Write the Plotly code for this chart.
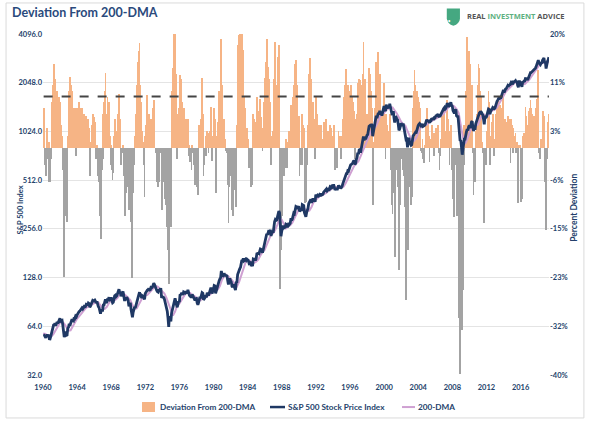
import math
import plotly.graph_objects as go

# ---------------- data ----------------
# monthly dates (month-end), Jan 1960 .. Apr 2019
months = [f"{y}-{m:02d}-28" for y in range(1960, 2020) for m in range(1, 13)][:712]

# S&P 500 monthly close
sp500 = [
    55.6, 56.1, 55.3, 54.4, 55.8, 56.9, 55.5, 56.8, 53.5, 53.4, 55.5, 58.1,
    61.8, 63.4, 65.1, 65.3, 66.6, 64.6, 66.8, 68.1, 66.7, 68.6, 71.3, 71.6,
    68.8, 69.9, 69.6, 65.2, 59.6, 54.8, 58.2, 59.1, 56.3, 56.5, 62.3, 63.1,
    66.2, 64.3, 66.6, 69.8, 70.8, 69.4, 69.1, 72.5, 71.7, 74.0, 73.2, 75.0,
    77.0, 77.8, 78.9, 79.5, 80.4, 81.7, 83.2, 82.0, 84.2, 84.9, 84.4, 84.8,
    87.6, 87.4, 86.2, 89.1, 88.4, 84.1, 85.3, 87.2, 89.9, 92.4, 91.6, 92.4,
    92.9, 91.2, 89.2, 91.1, 86.1, 84.7, 83.6, 77.1, 76.6, 80.2, 80.5, 80.3,
    86.6, 86.8, 90.2, 94.0, 89.1, 90.6, 94.8, 93.6, 96.7, 93.3, 94.0, 96.5,
    92.2, 89.4, 90.2, 97.6, 98.7, 99.6, 97.7, 98.9, 102.7, 103.4, 108.4, 103.9,
    103.0, 98.1, 101.5, 103.7, 103.5, 97.7, 91.8, 95.5, 93.1, 97.1, 93.8, 92.1,
    85.0, 89.5, 89.6, 81.5, 76.6, 72.7, 78.1, 81.5, 84.3, 83.3, 87.2, 92.2,
    95.9, 96.8, 100.3, 103.9, 99.6, 99.7, 95.6, 99.0, 98.3, 94.2, 93.9, 102.1,
    103.9, 106.6, 107.2, 107.7, 109.5, 107.1, 107.4, 111.1, 110.6, 111.6, 116.7, 118.1,
    116.0, 111.7, 111.5, 107.0, 105.0, 104.3, 108.2, 104.3, 108.4, 108.3, 96.0, 97.6,
    96.6, 96.2, 94.0, 90.3, 87.3, 86.0, 79.3, 72.2, 63.5, 73.9, 70.0, 68.6,
    77.0, 81.6, 83.4, 87.3, 91.2, 95.2, 88.8, 86.9, 83.9, 89.0, 91.2, 90.2,
    100.9, 99.7, 102.8, 101.6, 100.2, 104.3, 103.4, 102.9, 105.2, 102.9, 102.1, 107.5,
    102.0, 99.8, 98.4, 98.4, 96.1, 100.5, 98.9, 96.8, 96.5, 92.3, 94.8, 95.1,
    89.3, 87.0, 89.2, 96.8, 97.2, 95.5, 100.7, 103.3, 102.5, 93.2, 94.7, 96.1,
    99.9, 96.3, 101.6, 101.8, 99.1, 102.9, 103.8, 109.3, 109.3, 101.8, 106.2, 107.9,
    114.2, 113.7, 102.1, 106.3, 111.2, 114.2, 121.7, 122.4, 125.5, 127.5, 140.5, 135.8,
    129.6, 131.3, 136.0, 132.8, 132.6, 131.2, 130.9, 122.8, 116.2, 121.9, 126.4, 122.6,
    120.4, 113.1, 112.0, 116.4, 111.9, 109.6, 107.1, 119.5, 120.4, 133.7, 138.5, 140.6,
    145.3, 148.1, 153.0, 164.4, 162.4, 168.1, 162.6, 164.4, 166.1, 163.6, 166.4, 164.9,
    163.4, 157.1, 159.2, 160.1, 150.6, 153.2, 150.7, 166.7, 166.1, 166.1, 163.6, 167.2,
    179.6, 181.2, 180.7, 179.8, 189.6, 191.9, 190.9, 188.6, 182.1, 189.8, 202.2, 211.3,
    211.8, 226.9, 238.9, 235.5, 247.4, 250.8, 236.1, 252.9, 231.3, 244.0, 249.2, 242.2,
    274.1, 284.2, 291.7, 288.4, 290.1, 304.0, 318.7, 329.8, 321.8, 251.8, 230.3, 247.1,
    257.1, 267.8, 258.9, 261.3, 262.2, 273.5, 272.0, 261.5, 271.9, 279.0, 273.7, 277.7,
    297.5, 288.9, 294.9, 309.6, 320.5, 318.0, 346.1, 351.5, 349.2, 340.4, 346.0, 353.4,
    329.1, 331.9, 339.9, 330.8, 361.2, 358.0, 356.2, 322.6, 306.1, 304.0, 322.2, 330.2,
    343.9, 367.1, 375.2, 375.4, 389.8, 371.2, 387.8, 395.4, 387.9, 392.5, 375.2, 417.1,
    408.8, 412.7, 403.7, 415.0, 415.4, 408.1, 424.2, 414.0, 417.8, 418.7, 431.4, 435.7,
    438.8, 443.4, 451.7, 440.2, 450.2, 450.5, 448.1, 463.6, 458.9, 467.8, 461.8, 466.5,
    481.6, 467.1, 445.8, 450.9, 456.5, 444.3, 458.3, 475.5, 462.7, 472.4, 453.7, 459.3,
    470.4, 487.4, 500.7, 514.7, 533.4, 544.8, 562.1, 561.9, 584.4, 581.5, 605.4, 615.9,
    636.0, 640.4, 645.5, 654.2, 669.1, 670.6, 640.0, 652.0, 687.3, 705.3, 757.0, 740.7,
    786.2, 790.8, 757.1, 801.3, 848.3, 885.1, 954.3, 899.5, 947.3, 914.6, 955.4, 970.4,
    980.3, 1049.3, 1101.8, 1111.8, 1090.8, 1133.8, 1120.7, 957.3, 1017.0, 1098.7, 1163.6, 1229.2,
    1279.6, 1238.3, 1286.4, 1335.2, 1301.8, 1372.7, 1328.7, 1320.4, 1282.7, 1362.9, 1388.9, 1469.3,
    1394.5, 1366.4, 1498.6, 1452.4, 1420.6, 1454.6, 1430.8, 1517.7, 1436.5, 1429.4, 1315.0, 1320.3,
    1366.0, 1239.9, 1160.3, 1249.5, 1255.8, 1224.4, 1211.2, 1133.6, 1040.9, 1059.8, 1139.5, 1148.1,
    1130.2, 1106.7, 1147.4, 1076.9, 1067.1, 989.8, 911.6, 916.1, 815.3, 885.8, 936.3, 879.8,
    855.7, 841.2, 848.2, 916.9, 963.6, 974.5, 990.3, 1008.0, 996.0, 1050.7, 1058.2, 1111.9,
    1131.1, 1144.9, 1126.2, 1107.3, 1120.7, 1140.8, 1101.7, 1104.2, 1114.6, 1130.2, 1173.8, 1211.9,
    1181.3, 1203.6, 1180.6, 1156.9, 1191.5, 1191.3, 1234.2, 1220.3, 1228.8, 1207.0, 1249.5, 1248.3,
    1280.1, 1280.7, 1294.9, 1310.6, 1270.1, 1270.2, 1276.7, 1303.8, 1335.9, 1377.9, 1400.6, 1418.3,
    1438.2, 1406.8, 1420.9, 1482.4, 1530.6, 1503.4, 1455.3, 1474.0, 1526.8, 1549.4, 1481.1, 1468.4,
    1378.6, 1330.6, 1322.7, 1385.6, 1400.4, 1280.0, 1267.4, 1282.8, 1166.4, 968.8, 896.2, 903.3,
    825.9, 735.1, 797.9, 872.8, 919.1, 919.3, 987.5, 1020.6, 1057.1, 1036.2, 1095.6, 1115.1,
    1073.9, 1104.5, 1169.4, 1186.7, 1089.4, 1030.7, 1101.6, 1049.3, 1141.2, 1183.3, 1180.6, 1257.6,
    1286.1, 1327.2, 1325.8, 1363.6, 1345.2, 1320.6, 1292.3, 1218.9, 1131.4, 1253.3, 1247.0, 1257.6,
    1312.4, 1365.7, 1408.5, 1397.9, 1310.3, 1362.2, 1379.3, 1406.6, 1440.7, 1412.2, 1416.2, 1426.2,
    1498.1, 1514.7, 1569.2, 1597.6, 1630.7, 1606.3, 1685.7, 1633.0, 1681.6, 1756.5, 1805.8, 1848.4,
    1782.6, 1859.5, 1872.3, 1884.0, 1923.6, 1960.2, 1930.7, 2003.4, 1972.3, 2018.1, 2067.6, 2058.9,
    1995.0, 2104.5, 2067.9, 2085.5, 2107.4, 2063.1, 2103.8, 1972.2, 1920.0, 2079.4, 2080.4, 2043.9,
    1940.2, 1932.2, 2059.7, 2065.3, 2097.0, 2098.9, 2173.6, 2171.0, 2168.3, 2126.2, 2198.8, 2238.8,
    2278.9, 2363.6, 2362.7, 2384.2, 2411.8, 2423.4, 2470.3, 2471.7, 2519.4, 2575.3, 2647.6, 2673.6,
    2823.8, 2713.8, 2640.9, 2648.1, 2705.3, 2718.4, 2816.3, 2901.5, 2914.0, 2711.7, 2760.2, 2506.9,
    2704.1, 2784.5, 2834.4, 2945.8,
]

# 200-day moving average, quarterly (Dec 1959 .. Jun 2019)
dma_dates = [f"{y}-{m:02d}-28" for y in range(1959, 2020) for m in (3, 6, 9, 12)][3:3 + 239]
dma = [
    57.5,
    57.5, 56.5, 55.8, 55.4,   57.5, 60.5, 64.5, 67.2,   68.3, 66.5, 63.3, 60.2,
    60.4, 64.0, 68.6, 71.2,   73.8, 77.0, 80.0, 82.5,   84.5, 86.0, 87.0, 88.3,
    90.3, 89.8, 86.0, 82.5,   82.0, 84.5, 89.0, 93.0,   93.5, 93.5, 96.0, 100.2,
    101.8, 101.5, 99.0, 96.0, 93.0, 86.5, 82.0, 82.5,   87.0, 93.5, 97.8, 99.0,
    100.0, 103.5, 107.5, 110.5, 113.5, 112.0, 108.5, 105.5, 102.0, 95.5, 87.5, 80.0,
    74.5, 79.0, 86.0, 88.5,   92.5, 98.0, 102.5, 103.5, 103.0, 100.5, 99.0, 96.5,
    93.5, 92.5, 96.5, 98.0,   98.5, 99.5, 103.0, 105.0, 106.5, 108.0, 113.5, 124.0,
    129.5, 133.0, 130.0, 126.0, 122.0, 116.0, 113.0, 120.0, 131.0, 146.5, 158.0, 164.5,
    163.0, 159.0, 157.5, 160.5, 165.0, 175.0, 184.5, 189.5, 203.0, 222.0, 236.5, 240.5,
    252.5, 272.0, 298.0, 292.0, 273.0, 258.0, 265.0, 270.0, 279.0, 296.5, 320.0, 338.0,
    342.0, 344.0, 338.5, 330.0, 332.0, 349.5, 376.0, 388.0, 400.5, 410.0, 412.5, 418.0,
    428.0, 440.0, 452.0, 458.0, 465.0, 460.0, 457.5, 459.0, 466.0, 490.0, 525.0, 560.0,
    596.0, 628.0, 648.0, 670.0, 718.0, 774.0, 840.0, 900.0, 955.0, 1030.0, 1075.0, 1095.0,
    1160.0, 1260.0, 1300.0, 1330.0, 1385.0, 1420.0, 1445.0, 1440.0, 1390.0, 1320.0, 1250.0, 1175.0,
    1135.0, 1110.0, 1030.0, 950.0, 900.0, 895.0, 930.0, 1000.0, 1070.0, 1115.0, 1120.0, 1125.0,
    1160.0, 1180.0, 1200.0, 1215.0, 1245.0, 1270.0, 1285.0, 1320.0, 1380.0, 1430.0, 1480.0, 1490.0,
    1460.0, 1410.0, 1330.0, 1140.0, 940.0, 860.0, 910.0, 1000.0, 1080.0, 1110.0, 1110.0, 1130.0,
    1210.0, 1290.0, 1300.0, 1260.0, 1285.0, 1355.0, 1380.0, 1400.0, 1440.0, 1530.0, 1610.0, 1700.0,
    1790.0, 1850.0, 1920.0, 1970.0, 2030.0, 2065.0, 2060.0, 2040.0, 2010.0, 2010.0, 2070.0, 2125.0,
    2220.0, 2330.0, 2420.0, 2520.0, 2650.0, 2700.0, 2740.0, 2760.0,
    2740.0, 2780.0,
]

# percent deviation of the index from its 200-DMA, monthly
deviation = [
    7, 2, -3, -5, 1, 3.5, -2, 1, -6, -6, -2, 2.5,
    8, 11, 13, 14.8, 12, 7, 9, 10, 7, 8, 9, 8,
    3, 4, 2, -4, -14, -22.7, -12, -9, -12, -13, 2, 5,
    10, 12.5, 9, 11, 10, 6, 4, 7, 5, 7, -1.5, 5,
    7, 8, 8, 7, 7, 6, 7, 4, 6, 6, 4.5, 3.5,
    5.5, 4.5, 3, 5, 3.5, -5, -2, 1, 4, 6, 5, 5.4,
    4.5, 2, -2, 0.5, -5, -5, -6, -12, -13, -16, -4, -2,
    6, 8, 10, 13.1, 5, 6, 9, 6, 8, 2, -3, 0.5,
    -4, -5.7, -4.5, 2, 4, 5, 2, 3, 6, 6, 9.5, 5,
    1, -3, -1, 0.5, 0.5, -5, -12, -7, -8, -3, -5, -7,
    -11, -6, -5, -13, -23, -17, -8, -3, 1, 2, 6, 11,
    14, 15, 17, 18.4, 11, 8, 2, 3, 1, -3, -8.6, 2,
    4, 6, 9.3, 6, 6, 3, 3, 5, 3.5, 4, 7, 8.4,
    4, 0, -1, -4, -6, -7, -3, -6, -1, -0.5, -11, -8.6,
    -6, -6, -7, -9, -10, -10, -14, -18, -24, -9, -11, -14,
    3, 10, 14, 18, 20, 20, 13, 7, -2, 6, 7, 3.5,
    12.8, 11, 12, 8, 5, 7, 5, 3.5, 5, 2.5, 1, 5,
    0.5, -1.5, -2.5, -2, -4, 0.5, -1, -3, -3, -6.5, -3, -2.5,
    -7, -8.4, -5, 4, 4, 1.5, 5, 12.2, 6, -5, -3, -1,
    2, -1.5, 3, 2.5, -1, 2.5, 3, 7.2, 6, -2.4, 2, 3.5,
    7, 5, -8, -3, 2, 4.5, 10, 9, 10, 9, 19.2, 11,
    3, 2, 5, 1.5, 0.5, -0.5, -1, -6.5, -13.3, -7, -3, -4,
    -5, -11, -12, -4, -6, -7.5, -8, -10.5, 4, 15, 18, 19.8,
    20, 19.8, 19, 20, 16, 17.2, 9, 7, 6, 3, 3.5, 1.5,
    0, -3.5, -2, -1.5, -6.9, -5, -6.5, 6, 5, 4.5, 2, 3.5,
    9, 8.5, 6.5, 5, 8.5, 8, 5.4, 3.5, -0.5, 2, 8, 12.2,
    9, 15, 19.2, 13, 14.2, 12, 2, 8, -3, 2, 3, 0,
    12, 15, 18.6, 11, 9, 12, 16, 18, 10, -24.8, -18, -12,
    -7, -3, -5, -4, -3.5, 1.5, 0.5, -3.5, 1, 3, 0, 1.5,
    7.5, 3, 4, 8.9, 11, 8, 14.8, 15.4, 11, 4, 4, 5.5,
    -5, -3, -0.5, -3, 6, 4, 3.5, -6, -9.8, -9.5, -3, 0,
    4, 11, 13, 15.7, 12, 5, 8, 8, 5, 5, -2, 9,
    6.6, 6, 3, 4, 4, 1.5, 4, 1, 1.5, 1, 3.5, 4.5,
    4, 5, 5, 1.5, 3, 2.5, 1.5, 4, 2.5, 3.5, 1.5, 2,
    4, 0.5, -3.9, -2.5, -1.5, -3.5, 0, 3, 0.5, 2, -2, -1,
    2, 5, 7, 9, 11, 13.9, 13, 10, 11, 8, 10, 10,
    11, 10, 9, 8, 8, 6.5, -2, 1, 5, 6, 11.3, 7,
    12, 11.9, 4, 8, 11, 13, 18.6, 10, 12, 1, 6, 6,
    4, 11, 14, 13, 9, 10, 7, -10.1, -5, 1, 7, 12,
    15, 10, 12, 16.9, 11, 13, 8, 5.5, 1, 6, 6.5, 11.3,
    5, -2, 6, 4, 0.5, 3, 1, 6, -0.5, -4, -10, -11.6,
    -1, -8, -19.2, -9, -4, -4, -4, -7, -21.6, -10, -2, -1,
    -2, -4, 0, -5, -6, -10.4, -26.8, -14, -18, -18, -4, -7,
    -7, -10, -8.6, 2, 7, 10, 13.7, 11, 8, 10, 8, 9,
    8, 7, 2, -0.5, -1, 1.5, -2, -2.7, 0, 0.5, 4, 7,
    3.5, 4.5, 2, -2.5, 1.5, 1.5, 4, 2.5, 2.5, -1.5, 2.5, 2,
    3.5, 3, 3.5, 4, -1, -3.9, -1.5, 1.5, 4, 6.5, 7, 7,
    7, 3, 2, 6, 8.4, 5, 1, -3, 3, 4, -2, -4,
    -9, -10, -12.2, -3, -1, -9, -12, -8, -16, -30, -39.8, -28,
    -20, -32, -25, -3, 4, 4, 10, 14, 19.5, 16, 17, 15,
    14.8, 5, 10, 11, -1, -8.4, -2, -6, 3, 6, 4, 11,
    14.8, 14, 10, 9, 5, 1, -1, -10, -13.3, -1.5, -3, -2,
    3, 7, 10, 8, -3, 0.5, 2, 4.5, 6, 2.5, -1.5, 1.5,
    6, 6, 8, 8, 9, 3, 7.5, 2.5, 4.5, 7, 8.5, 9.5,
    1.5, 5, 4.5, 3.5, 4.5, 5.5, 2.5, 5, 2.5, -2.7, 5, 4,
    -1, 3.5, 1.5, 2, 2.5, -1, 1, -9.8, -7, 0.5, 0.5, -1.5,
    -9.5, -9, 1, 2, 2.5, 1.5, 7.2, 5.5, 4, 1, 3.5, 6.5,
    7, 8.4, 7, 6, 5.5, 5, 5.5, 4, 5, 7, 8.5, 9,
    13.7, -1, -2, -1.5, 1.5, 1.5, 4.5, 6.5, 5.5, -6, -3, -14.5,
    -2, 2.5, 4.5, 6,
]

ref_level = 9.0  # dashed reference line (percent)

price_ticks = [32, 64, 128, 256, 512, 1024, 2048, 4096]
price_ticktext = ["32.0", "64.0", "128.0", "256.0", "512.0", "1024.0", "2048.0", "4096.0"]
dev_ticktext = ["-40%", "-32%", "-23%", "-15%", "-6%", "3%", "11%", "20%"]
dev_ticks = [-40 + i * 60 / 7 for i in range(8)]

# ---------------- styling ----------------
ORANGE = "#F6B485"
GRAY = "#A3A3A3"
NAVY = "#1F3864"
PINK = "#CFA0D2"
TXT = "#243F6B"
FONT = "Lato, 'Open Sans', sans-serif"

dev_pos = [v if v > 0 else None for v in deviation]
dev_neg = [v if v < 0 else None for v in deviation]
bar_w = 36 * 24 * 3600 * 1000

fig = go.Figure()
fig.add_trace(go.Bar(x=months, y=dev_pos, width=bar_w, name="Deviation From 200-DMA",
                     marker=dict(color=ORANGE, line=dict(width=0)), yaxis="y"))
fig.add_trace(go.Bar(x=months, y=dev_neg, width=bar_w, name="Deviation From 200-DMA (neg)",
                     marker=dict(color=GRAY, line=dict(width=0)), yaxis="y"))
fig.add_trace(go.Scatter(x=dma_dates, y=dma, mode="lines", name="200-DMA",
                         line=dict(color=PINK, width=2), yaxis="y2"))
fig.add_trace(go.Scatter(x=months, y=sp500, mode="lines", name="S&P 500 Stock Price Index",
                         line=dict(color=NAVY, width=2.8), yaxis="y2"))

# dashed reference line with arrow at left
fig.add_shape(type="line", xref="x", yref="y", x0=months[0], x1=months[-1], y0=ref_level, y1=ref_level,
              line=dict(color="#444444", width=2, dash="dash"))
fig.add_annotation(x="1959-10-01", y=ref_level, xref="x", yref="y", ax=14, ay=0, text="",
                   showarrow=True, arrowhead=2, arrowsize=1, arrowwidth=1.8, arrowcolor="#444444")

# border
fig.add_shape(type="rect", xref="paper", yref="paper", x0=-0.073, x1=1.069, y0=-0.126, y1=1.091,
              line=dict(color="#DADADA", width=1), fillcolor="rgba(0,0,0,0)", layer="below")

# title
fig.add_annotation(x=-0.065, y=1.062, xref="paper", yref="paper", xanchor="left", yanchor="middle",
                   text="Deviation From 200-DMA", showarrow=False,
                   font=dict(family=FONT, size=12.5, color="#2A4A7C", weight="bold"))
# logo shield
fig.add_shape(type="path", xref="paper", yref="paper",
              path="M 0.798 1.075 L 0.824 1.075 L 0.824 1.045 Q 0.823 1.030 0.811 1.024 Q 0.799 1.030 0.798 1.045 Z",
              fillcolor="#45A881", line=dict(width=0))
fig.add_annotation(x=0.811, y=1.053, xref="paper", yref="paper", text="•••", showarrow=False,
                   font=dict(size=5, color="white"))
fig.add_annotation(x=0.834, y=1.052, xref="paper", yref="paper", xanchor="left", yanchor="middle",
                   text="REAL <span style='color:#5DB07F'>INVESTMENT</span> ADVICE", showarrow=False,
                   font=dict(family="'Open Sans', sans-serif", size=7.5, color="#555555", weight="bold"))

# axis titles
fig.add_annotation(x=-0.057, y=0.484, xref="paper", yref="paper", text="S&P 500 Index", textangle=-90,
                   showarrow=False, font=dict(family=FONT, size=7.5, color=TXT, weight="bold"))
fig.add_annotation(x=1.063, y=0.49, xref="paper", yref="paper", text="Percent Deviation", textangle=-90,
                   showarrow=False, font=dict(family=FONT, size=8.5, color=TXT, weight="bold"))

# legend (drawn below the plot)
LEG_Y = -0.094
legfont = dict(family=FONT, size=8.2, color=TXT, weight="bold")
fig.add_shape(type="rect", xref="paper", yref="paper", x0=0.1957, x1=0.2213, y0=-0.1085, y1=-0.0792,
              fillcolor=ORANGE, line=dict(width=0))
fig.add_annotation(x=0.2273, y=LEG_Y, xref="paper", yref="paper", xanchor="left", yanchor="middle",
                   text="Deviation From 200-DMA", showarrow=False, font=legfont)
fig.add_shape(type="line", xref="paper", yref="paper", x0=0.4486, x1=0.4783, y0=LEG_Y, y1=LEG_Y,
              line=dict(color=NAVY, width=2.5))
fig.add_annotation(x=0.4802, y=LEG_Y, xref="paper", yref="paper", xanchor="left", yanchor="middle",
                   text="S&P 500 Stock Price Index", showarrow=False, font=legfont)
fig.add_shape(type="line", xref="paper", yref="paper", x0=0.7095, x1=0.7352, y0=LEG_Y, y1=LEG_Y,
              line=dict(color=PINK, width=2))
fig.add_annotation(x=0.7372, y=LEG_Y, xref="paper", yref="paper", xanchor="left", yanchor="middle",
                   text="200-DMA", showarrow=False, font=legfont)

tickfont = dict(family=FONT, size=7.5, color=TXT, weight="bold")
fig.update_layout(
    width=590, height=423,
    margin=dict(l=43, r=41, t=34, b=48),
    paper_bgcolor="white", plot_bgcolor="white",
    barmode="overlay", bargap=0,
    font=dict(family=FONT, color=TXT),
    showlegend=False,
    xaxis=dict(type="date", range=["1960-01-01", "2019-05-02"], dtick="M48", tick0="1960-01-01",
               tickformat="%Y", showgrid=False, zeroline=False, showline=False, ticks="",
               tickfont=tickfont, automargin=False, ticklabelstandoff=6),
    yaxis=dict(side="right", range=[-40, 20], tickvals=dev_ticks, ticktext=dev_ticktext,
               showgrid=True, gridcolor="#E4E4E4", gridwidth=1, zeroline=False, showline=False,
               ticks="", tickfont=tickfont, automargin=False),
    yaxis2=dict(overlaying="y", side="left", type="log",
                range=[math.log10(32), math.log10(4096)], tickvals=price_ticks, ticktext=price_ticktext,
                showgrid=False, zeroline=False, showline=False, ticks="", tickfont=tickfont,
                automargin=False),
)

fig.write_html("out.html", config={"displayModeBar": False},
               post_script="document.body.style.margin='0';")
